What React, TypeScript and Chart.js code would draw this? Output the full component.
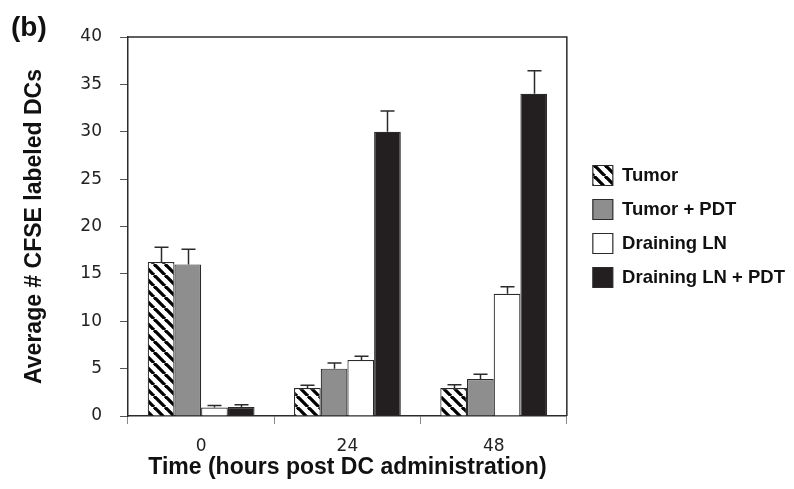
import { useEffect, useRef } from "react";
import { Chart, registerables } from "chart.js";

Chart.register(...registerables);

const categories = ["0", "24", "48"];
const seriesNames = ["Tumor", "Tumor + PDT", "Draining LN", "Draining LN + PDT"];
const tumorValues = [16.25, 2.95, 2.95];
const tumorErrors = [1.55, 0.3, 0.35];
const tumorPdtValues = [16.0, 5.0, 3.9];
const tumorPdtErrors = [1.6, 0.6, 0.5];
const lnValues = [0.9, 5.9, 12.9];
const lnErrors = [0.2, 0.4, 0.75];
const lnPdtValues = [0.95, 30.0, 34.0];
const lnPdtErrors = [0.25, 2.2, 2.45];
const yTicks = [0, 5, 10, 15, 20, 25, 30, 35, 40];

const seriesValues = [tumorValues, tumorPdtValues, lnValues, lnPdtValues];
const seriesErrors = [tumorErrors, tumorPdtErrors, lnErrors, lnPdtErrors];

const EDGE = "#2b2b2b";
const TITLE_FONT = "'Liberation Sans', Arial, sans-serif";
const TICK_FONT = "'DejaVu Sans', Verdana, sans-serif";

function makeHatch(): CanvasPattern | string {
  const s = 11;
  const c = document.createElement("canvas");
  c.width = s;
  c.height = s;
  const g = c.getContext("2d");
  if (!g) return "#fff";
  g.fillStyle = "#ffffff";
  g.fillRect(0, 0, s, s);
  g.strokeStyle = "#000000";
  g.lineWidth = 3.3;
  for (const x0 of [-s, 0, s]) {
    g.beginPath();
    g.moveTo(x0, 0);
    g.lineTo(x0 + s, s);
    g.stroke();
  }
  const p = g.createPattern(c, "repeat");
  return p || "#fff";
}

const errorBarPlugin = {
  id: "errorBars",
  afterDatasetsDraw(chart: any) {
    const ctx = chart.ctx;
    const yScale = chart.scales.y;
    ctx.save();
    ctx.strokeStyle = EDGE;
    ctx.lineWidth = 1.5;
    chart.data.datasets.forEach((_ds: any, i: number) => {
      const meta = chart.getDatasetMeta(i);
      meta.data.forEach((bar: any, j: number) => {
        const top = yScale.getPixelForValue(seriesValues[i][j] + seriesErrors[i][j]);
        const x = Math.round(bar.x) + 0.5;
        ctx.beginPath();
        ctx.moveTo(x, bar.y);
        ctx.lineTo(x, top);
        ctx.moveTo(x - 7, top);
        ctx.lineTo(x + 7, top);
        ctx.stroke();
      });
    });
    ctx.restore();
  },
};

const framePlugin = {
  id: "frame",
  afterDraw(chart: any) {
    const { ctx, chartArea } = chart;
    ctx.save();
    ctx.strokeStyle = EDGE;
    ctx.lineWidth = 1.5;
    ctx.beginPath();
    ctx.moveTo(chartArea.left, chartArea.top);
    ctx.lineTo(chartArea.right, chartArea.top);
    ctx.lineTo(chartArea.right, chartArea.bottom);
    ctx.stroke();
    ctx.fillStyle = "#111";
    ctx.font = `bold 28px ${TITLE_FONT}`;
    ctx.textBaseline = "alphabetic";
    ctx.textAlign = "left";
    ctx.fillText("(b)", 11, 36);
    ctx.restore();
  },
};

export default function App() {
  const ref = useRef<HTMLCanvasElement | null>(null);

  useEffect(() => {
    document.body.style.margin = "0";
    const canvas = ref.current;
    if (!canvas) return;
    const fills = [makeHatch(), "#8e8e8e", "#ffffff", "#231f20"];
    const chart = new Chart(canvas, {
      type: "bar",
      data: {
        labels: categories,
        datasets: seriesNames.map((name, i) => ({
          label: name,
          data: seriesValues[i],
          backgroundColor: fills[i] as any,
          borderColor: EDGE,
          borderWidth: 1.2,
          borderSkipped: "bottom",
          categoryPercentage: 0.73,
          barPercentage: 1.0,
        })),
      },
      options: {
        responsive: false,
        animation: false,
        layout: { padding: { top: 37, left: 0, bottom: 0, right: -1 } },
        plugins: {
          tooltip: { enabled: false },
          legend: {
            position: "right",
            fullSize: false,
            maxWidth: 260,
            labels: {
              boxWidth: 20,
              boxHeight: 20,
              padding: 14,
              color: "#111",
              font: { family: TITLE_FONT, size: 18.5, weight: "bold", lineHeight: 1.2 },
            },
          },
        },
        scales: {
          x: {
            offset: true,
            afterFit: (scale: any) => {
              scale.height = 73;
            },
            grid: {
              offset: true,
              drawOnChartArea: false,
              drawTicks: true,
              tickLength: 8,
              color: "#888",
            },
            border: { display: true, color: EDGE, width: 1.5 },
            ticks: {
              padding: 12,
              color: "#222",
              font: { family: TICK_FONT, size: 17 },
            },
            title: {
              display: true,
              text: "Time (hours post DC administration)",
              color: "#111",
              font: { family: TITLE_FONT, size: 23, weight: "bold", lineHeight: 1.2 },
              padding: { top: 0, bottom: 8 },
            },
          },
          y: {
            min: 0,
            max: 40,
            afterFit: (scale: any) => {
              scale.width = 128;
            },
            afterBuildTicks: (scale: any) => {
              scale.ticks = yTicks.map((v) => ({ value: v }));
            },
            grid: {
              drawOnChartArea: false,
              drawTicks: true,
              tickLength: 8,
              color: "#555",
            },
            border: { display: true, color: EDGE, width: 1.5 },
            ticks: {
              padding: 18,
              color: "#222",
              font: { family: TICK_FONT, size: 17 },
            },
            title: {
              display: true,
              text: "Average # CFSE labeled DCs",
              color: "#111",
              font: { family: TITLE_FONT, size: 23, weight: "bold", lineHeight: 1.2 },
              padding: { top: 21, bottom: 0 },
            },
          },
          gap: {
            type: "linear",
            position: "right",
            display: true,
            afterFit: (scale: any) => {
              scale.width = 12;
            },
            grid: { display: false, drawTicks: false },
            border: { display: false },
            ticks: { display: false },
          },
        },
      },
      plugins: [errorBarPlugin, framePlugin],
    });
    return () => chart.destroy();
  }, []);

  return (
    <div style={{ width: 794, height: 489 }}>
      <canvas ref={ref} width={794} height={489} style={{ display: "block" }} />
    </div>
  );
}
